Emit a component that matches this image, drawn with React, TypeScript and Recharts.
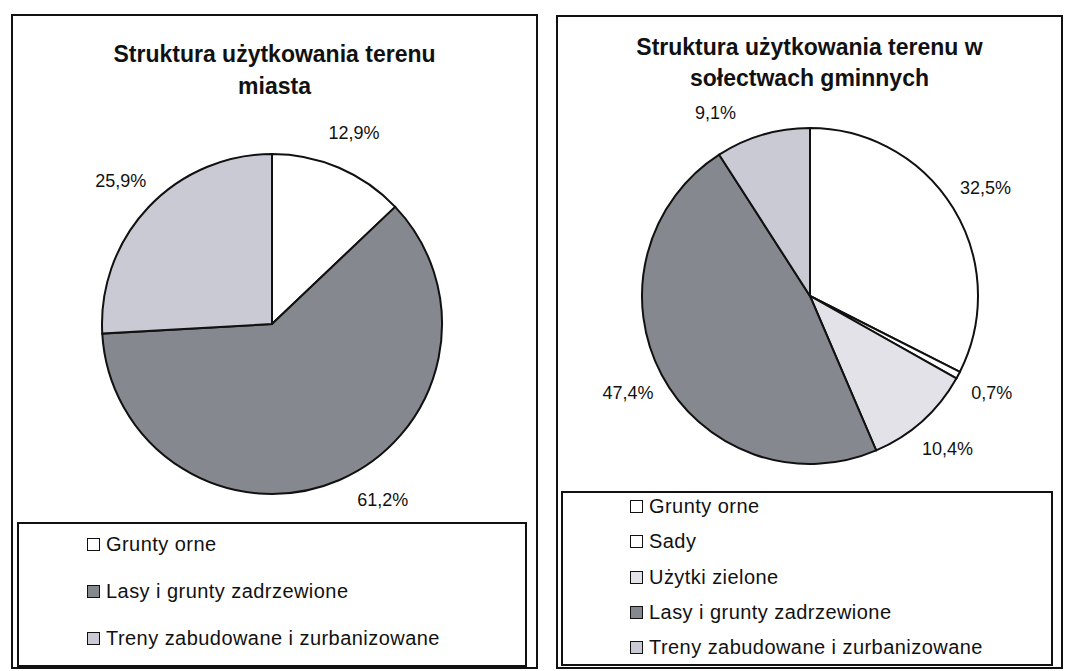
import React from 'react';
import { PieChart, Pie, Cell } from 'recharts';

// ---- data ----
const leftTitle = ['Struktura użytkowania terenu', 'miasta'];
const leftCategories = ['Grunty orne', 'Lasy i grunty zadrzewione', 'Treny zabudowane i zurbanizowane'];
const leftValues = [12.9, 61.2, 25.9];
const leftColors = ['#ffffff', '#85898f', '#cacad4'];

const rightTitle = ['Struktura użytkowania terenu w', 'sołectwach gminnych'];
const rightCategories = ['Grunty orne', 'Sady', 'Użytki zielone', 'Lasy i grunty zadrzewione', 'Treny zabudowane i zurbanizowane'];
const rightValues = [32.5, 0.7, 10.4, 47.4, 9.1];
const rightColors = ['#ffffff', '#ffffff', '#e2e2e8', '#85898f', '#cacad4'];

const FONT = '"Liberation Sans", Arial, Helvetica, sans-serif';

const fmt = (v: number) => v.toFixed(1).replace('.', ',') + '%';

// label placed outside the slice; kept between the title and the legend (minY..maxY) by sliding it along the circle
const makeLabel = (minY: number, maxY: number) => (p: any) => {
  const RAD = Math.PI / 180;
  const r = p.outerRadius + 38;
  const a = p.midAngle * RAD;
  let x = p.cx + r * Math.cos(a);
  let y = p.cy - r * Math.sin(a);
  const slide = (target: number) => {
    const s = Math.max(-1, Math.min(1, (p.cy - target) / r));
    let t = Math.asin(s);
    if (Math.cos(a) < 0) t = Math.PI - t;
    x = p.cx + r * Math.cos(t);
    y = p.cy - r * Math.sin(t);
  };
  if (y < minY) slide(minY);
  else if (y > maxY) slide(maxY);
  return (
    <text x={x} y={y} textAnchor="middle" dominantBaseline="central" fontSize={18} fontFamily={FONT} fill="#111">
      {fmt(p.value)}
    </text>
  );
};

type PanelProps = {
  left: number; top: number; width: number; height: number;
  title: string[]; titleTop: number; titleLine: number;
  categories: string[]; values: number[]; colors: string[];
  cx: number; cy: number; r: number; labelMinY: number; labelMaxY: number;
  legendBox: { left: number; top: number; width: number; height: number };
  legendX: number; legendTop: number; legendRow: number;
};

function Panel(props: PanelProps) {
  const data = props.categories.map((name, i) => ({ name, value: props.values[i] }));
  return (
    <div style={{ position: 'absolute', left: props.left, top: props.top, width: props.width, height: props.height }}>
      <div style={{ position: 'absolute', inset: 0, border: '2px solid #111', boxSizing: 'border-box' }} />
      <div style={{ position: 'absolute', left: 0, top: props.titleTop, width: props.width, textAlign: 'center',
        fontFamily: FONT, fontWeight: 'bold', fontSize: 23, lineHeight: props.titleLine + 'px', color: '#111' }}>
        {props.title.map((t, i) => <div key={i}>{t}</div>)}
      </div>
      <div style={{ position: 'absolute', left: props.legendBox.left, top: props.legendBox.top,
        width: props.legendBox.width, height: props.legendBox.height, border: '2px solid #111', boxSizing: 'border-box' }} />
      <div style={{ position: 'absolute', left: props.legendX, top: props.legendTop }}>
        {data.map((d, i) => (
          <div key={i} style={{ height: props.legendRow, display: 'flex', alignItems: 'center',
            fontFamily: FONT, fontSize: 20, letterSpacing: 0.45, color: '#111', whiteSpace: 'nowrap' }}>
            <span style={{ display: 'inline-block', width: 13, height: 13, border: '1.5px solid #111',
              boxSizing: 'border-box', background: props.colors[i], marginRight: 6 }} />
            {d.name}
          </div>
        ))}
      </div>
      <div style={{ position: 'absolute', left: 0, top: 0 }}>
        <PieChart width={props.width} height={props.height} margin={{ top: 0, right: 0, bottom: 0, left: 0 }}>
          <Pie data={data} dataKey="value" nameKey="name" cx={props.cx} cy={props.cy} outerRadius={props.r}
            startAngle={90} endAngle={-270} stroke="#111" strokeWidth={2}
            label={makeLabel(props.labelMinY, props.labelMaxY)} labelLine={false} isAnimationActive={false}>
            {data.map((d, i) => <Cell key={i} fill={props.colors[i]} />)}
          </Pie>
        </PieChart>
      </div>
    </div>
  );
}

export default function App() {
  return (
    <div style={{ position: 'absolute', left: 0, top: 0, width: 1067, height: 671, background: '#fff', overflow: 'hidden' }}>
      <Panel left={11} top={14} width={527} height={655}
        title={leftTitle} titleTop={24} titleLine={32}
        categories={leftCategories} values={leftValues} colors={leftColors}
        cx={261} cy={310} r={170} labelMinY={100} labelMaxY={486}
        legendBox={{ left: 6, top: 508, width: 510, height: 145 }}
        legendX={76} legendTop={507} legendRow={47} />
      <Panel left={556} top={15} width={507} height={654}
        title={rightTitle} titleTop={17} titleLine={31}
        categories={rightCategories} values={rightValues} colors={rightColors}
        cx={254} cy={281} r={168} labelMinY={98} labelMaxY={460}
        legendBox={{ left: 5, top: 476, width: 492, height: 175 }}
        legendX={74} legendTop={474} legendRow={35.25} />
    </div>
  );
}
